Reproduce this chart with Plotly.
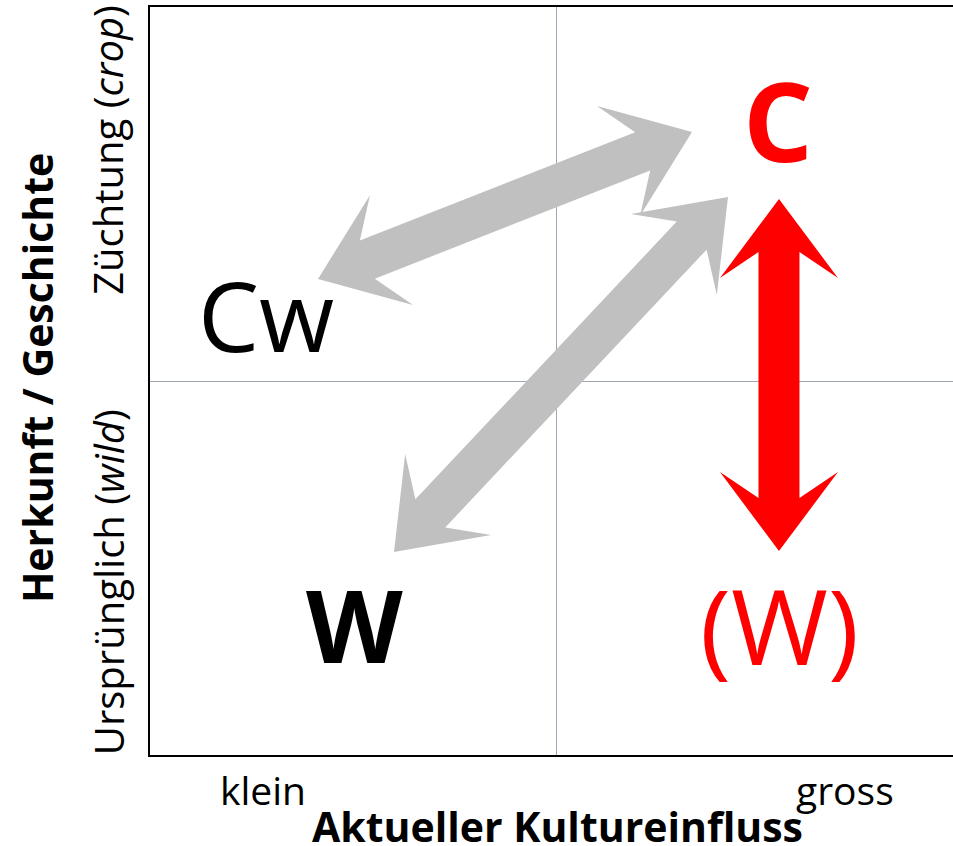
import plotly.graph_objects as go
import numpy as np

# ---------------- data ----------------
x_tick_labels = ["klein", "gross"]
x_tick_pos = [1.39, 8.56]
y_tick_labels = ["Ursprünglich (<i>wild</i>)", "Züchtung (<i>crop</i>)"]
y_tick_pos = [2.31, 8.09]
x_title = "<b>Aktueller Kultureinfluss</b>"
y_title = "<b>Herkunft / Geschichte</b>"

# quadrant labels
label_text = ["Cw", "<b>C</b>", "<b>W</b>", "(W)"]
label_x = [1.43, 7.74, 2.52, 7.75]
label_y = [5.89, 8.50, 1.75, 1.75]
label_size = [97, 110, 100, 105]
label_color = ["black", "red", "black", "red"]

# double-headed arrows: start (x, y) -> end (x, y)
arrow_start_x = [2.069, 3.005, 7.746]
arrow_start_y = [6.364, 2.714, 2.727]
arrow_end_x = [6.675, 7.118, 7.746]
arrow_end_y = [8.329, 7.460, 7.433]
arrow_color = ["#c0c0c0", "#c0c0c0", "#ff0000"]

# ---------------- layout constants ----------------
W, H = 953, 846
ML, MR, MT, MB = 150, 0, 7, 91
X_RANGE = [0, (W - ML - MR) / ((556 - ML) / 5.0)]
Y_RANGE = [0, 10]
px_per_x = (W - ML - MR) / (X_RANGE[1] - X_RANGE[0])
px_per_y = (H - MT - MB) / (Y_RANGE[1] - Y_RANGE[0])


def arrow_polygon(x0, y0, x1, y1, Lb=79, Wb=59, Ln=53, w=20.5):
    # work in pixel space (y up), then convert back to data units
    p0 = np.array([x0 * px_per_x, y0 * px_per_y])
    p1 = np.array([x1 * px_per_x, y1 * px_per_y])
    d = p1 - p0
    u = d / np.linalg.norm(d)
    n = np.array([-u[1], u[0]])
    pts = [
        p1,
        p1 - Lb * u + Wb * n,
        p1 - Ln * u + w * n,
        p0 + Ln * u + w * n,
        p0 + Lb * u + Wb * n,
        p0,
        p0 + Lb * u - Wb * n,
        p0 + Ln * u - w * n,
        p1 - Ln * u - w * n,
        p1 - Lb * u - Wb * n,
        p1,
    ]
    xs = [p[0] / px_per_x for p in pts]
    ys = [p[1] / px_per_y for p in pts]
    return xs, ys


fig = go.Figure()
for i in range(len(arrow_start_x)):
    xs, ys = arrow_polygon(arrow_start_x[i], arrow_start_y[i], arrow_end_x[i], arrow_end_y[i])
    fig.add_trace(go.Scatter(
        x=xs, y=ys, mode="lines", fill="toself",
        fillcolor=arrow_color[i], line=dict(width=0, color=arrow_color[i]),
        hoverinfo="skip", showlegend=False,
    ))

FONT = "Open Sans, Segoe UI, sans-serif"


def px_to_paper_x(px):
    return (px - ML) / (W - ML - MR)


def px_to_paper_y(py):
    return (H - py - MB) / (H - MT - MB)


annotations = []
for t, x, y, s, c in zip(label_text, label_x, label_y, label_size, label_color):
    annotations.append(dict(x=x, y=y, xref="x", yref="y", text=t, showarrow=False,
                            font=dict(family=FONT, size=s, color=c),
                            xanchor="center", yanchor="middle"))
for t, x in zip(x_tick_labels, x_tick_pos):
    annotations.append(dict(x=x, y=px_to_paper_y(789), xref="x", yref="paper", text=t,
                            showarrow=False,
                            font=dict(family=FONT, size=39, color="black"),
                            xanchor="center", yanchor="middle"))
for t, y in zip(y_tick_labels, y_tick_pos):
    annotations.append(dict(x=px_to_paper_x(108), y=y, xref="paper", yref="y", text=t,
                            showarrow=False,
                            font=dict(family=FONT, size=40, color="black"),
                            textangle=-90, xanchor="center", yanchor="middle"))

annotations.append(dict(x=px_to_paper_x(557), y=px_to_paper_y(826),
                        xref="paper", yref="paper", text=x_title, showarrow=False,
                        font=dict(family=FONT, size=41, color="black"),
                        xanchor="center", yanchor="middle"))
annotations.append(dict(x=px_to_paper_x(37), y=px_to_paper_y(378),
                        xref="paper", yref="paper", text=y_title, showarrow=False,
                        textangle=-90,
                        font=dict(family=FONT, size=41, color="black"),
                        xanchor="center", yanchor="middle"))

fig.update_layout(
    width=W, height=H,
    margin=dict(l=ML, r=MR, t=MT, b=MB, pad=0),
    paper_bgcolor="white", plot_bgcolor="white",
    showlegend=False,
    annotations=annotations,
    xaxis=dict(range=X_RANGE, tickvals=[5], showticklabels=False, ticks="",
               showgrid=True, gridcolor="#9ea7b3", gridwidth=1, zeroline=False,
               showline=True, linecolor="black", linewidth=2, mirror=True,
               fixedrange=True),
    yaxis=dict(range=Y_RANGE, tickvals=[5], showticklabels=False, ticks="",
               showgrid=True, gridcolor="#9ea7b3", gridwidth=1, zeroline=False,
               showline=True, linecolor="black", linewidth=2, mirror=False,
               fixedrange=True),
)

fig.write_html(
    "out.html",
    config={"displayModeBar": False},
    post_script="document.body.style.margin='0';document.body.style.overflow='hidden';",
)
